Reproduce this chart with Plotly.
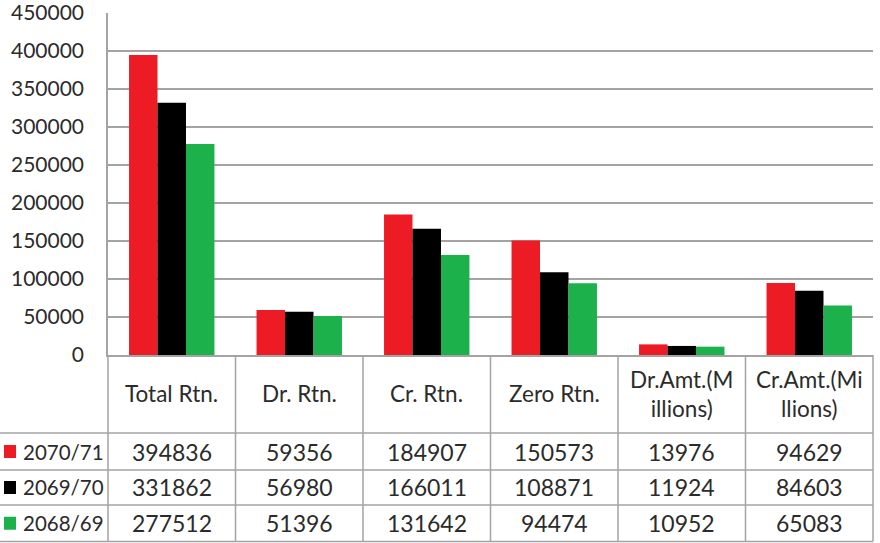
import plotly.graph_objects as go

# ---------------- data ----------------
categories = ["Total Rtn.", "Dr. Rtn.", "Cr. Rtn.", "Zero Rtn.", "Dr.Amt.(Millions)", "Cr.Amt.(Millions)"]
header_labels = ["Total Rtn.", "Dr. Rtn.", "Cr. Rtn.", "Zero Rtn.", "Dr.Amt.(M<br>illions)", "Cr.Amt.(Mi<br>llions)"]
series_names = ["2070/71", "2069/70", "2068/69"]
values_2070_71 = [394836, 59356, 184907, 150573, 13976, 94629]
values_2069_70 = [331862, 56980, 166011, 108871, 11924, 84603]
values_2068_69 = [277512, 51396, 131642, 94474, 10952, 65083]
y_tick_values = [0, 50000, 100000, 150000, 200000, 250000, 300000, 350000, 400000, 450000]

series_values = [values_2070_71, values_2069_70, values_2068_69]
colors = ["#ED1C24", "#000000", "#1DB14B"]

# ---------------- layout geometry ----------------
W, H = 880, 543
L, R, T, B = 108, 7, 13, 188
PW, PH = W - L - R, H - T - B
FONT = "Lato"
TXT = "#2b2b2b"
LINE = "#a3a3a3"


def px_x(px):
    return (px - L) / PW


def px_y(py):
    return (H - B - py) / PH


axis_py = H - B
header_bottom = 433
row_edges = [433, 470, 505, 541.5]
n = len(categories)

fig = go.Figure()
for name, vals, col in zip(series_names, series_values, colors):
    fig.add_trace(go.Bar(x=categories, y=vals, name=name, marker=dict(color=col, line=dict(width=0))))

shapes = []
# horizontal table lines
for py in row_edges:
    shapes.append(dict(type="line", xref="paper", yref="paper", x0=px_x(0), x1=1,
                       y0=px_y(py), y1=px_y(py), line=dict(color=LINE, width=1.5)))
# left vertical line through table
shapes.append(dict(type="line", xref="paper", yref="paper", x0=0, x1=0,
                   y0=px_y(axis_py), y1=px_y(row_edges[-1]), line=dict(color=LINE, width=1.5)))
# column boundaries in table
for i in range(1, n + 1):
    shapes.append(dict(type="line", xref="paper", yref="paper", x0=i / n, x1=i / n,
                       y0=px_y(axis_py), y1=px_y(row_edges[-1]), line=dict(color=LINE, width=1.5)))

annotations = []
# header labels
for i, lab in enumerate(header_labels):
    annotations.append(dict(xref="paper", yref="paper", x=(i + 0.5) / n,
                            y=px_y((axis_py + header_bottom) / 2), text=lab, showarrow=False,
                            xanchor="center", yanchor="middle",
                            font=dict(family=FONT, size=22.5, color=TXT)))
# row labels, keys and values
for r, (name, vals, col) in enumerate(zip(series_names, series_values, colors)):
    yc = (row_edges[r] + row_edges[r + 1]) / 2
    shapes.append(dict(type="rect", xref="paper", yref="paper", x0=px_x(4), x1=px_x(16),
                       y0=px_y(yc + 6.5), y1=px_y(yc - 6.5), fillcolor=col, line=dict(width=0)))
    annotations.append(dict(xref="paper", yref="paper", x=px_x(21), y=px_y(yc), text=name,
                            showarrow=False, xanchor="left", yanchor="middle",
                            font=dict(family=FONT, size=20.5, color=TXT)))
    for i, v in enumerate(vals):
        annotations.append(dict(xref="paper", yref="paper", x=(i + 0.5) / n, y=px_y(yc),
                                text=str(v), showarrow=False, xanchor="center", yanchor="middle",
                                font=dict(family=FONT, size=23, color=TXT)))

fig.update_layout(
    width=W, height=H,
    margin=dict(l=L, r=R, t=T, b=B, pad=0, autoexpand=False),
    paper_bgcolor="white", plot_bgcolor="white",
    barmode="group", bargap=0.33, bargroupgap=0,
    showlegend=False,
    shapes=shapes, annotations=annotations,
    xaxis=dict(range=[-0.5, n - 0.5], showticklabels=False, ticks="", showgrid=False, automargin=False,
               showline=True, linecolor=LINE, linewidth=1.5, zeroline=False, fixedrange=True),
    yaxis=dict(range=[0, 450000], tickvals=y_tick_values, ticktext=[str(v) for v in y_tick_values],
               showgrid=True, gridcolor=LINE, gridwidth=1.5, showline=True, linecolor=LINE,
               linewidth=1.5, zeroline=False, ticks="", ticklabelstandoff=18, automargin=False,
               ticklabeloverflow="allow",
               tickfont=dict(family=FONT, size=21, color=TXT)),
)

fig.write_html("out.html", config={"displayModeBar": False},
               post_script="document.body.style.margin='0';")
